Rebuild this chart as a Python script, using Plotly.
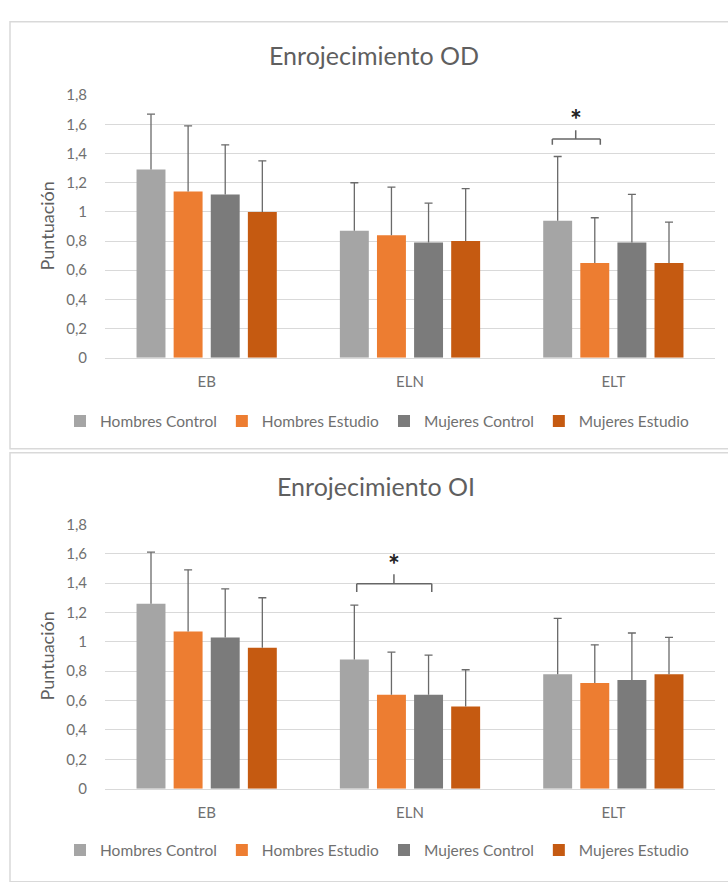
import plotly.graph_objects as go

categories = ["EB", "ELN", "ELT"]
series_names = ["Hombres Control", "Hombres Estudio", "Mujeres Control", "Mujeres Estudio"]
colors = ["#A5A5A5", "#ED7D31", "#7B7B7B", "#C55A11"]

# Enrojecimiento OD: means and upper error-bar tops
od_values = [
    [1.29, 0.87, 0.94],
    [1.14, 0.84, 0.65],
    [1.12, 0.79, 0.79],
    [1.00, 0.80, 0.65],
]
od_err_top = [
    [1.67, 1.20, 1.38],
    [1.59, 1.17, 0.96],
    [1.46, 1.06, 1.12],
    [1.35, 1.16, 0.93],
]

# Enrojecimiento OI
oi_values = [
    [1.26, 0.88, 0.78],
    [1.07, 0.64, 0.72],
    [1.03, 0.64, 0.74],
    [0.96, 0.56, 0.78],
]
oi_err_top = [
    [1.61, 1.25, 1.16],
    [1.49, 0.93, 0.98],
    [1.36, 0.91, 1.06],
    [1.30, 0.81, 1.03],
]

titles = ["Enrojecimiento OD", "Enrojecimiento OI"]
y_title = "Puntuación"
tick_vals = [0, 0.2, 0.4, 0.6, 0.8, 1.0, 1.2, 1.4, 1.6, 1.8]

FONT = "Lato"
TXT = "#707070"
ERR = "#6A6A6A"
W, H = 728, 882

fig = go.Figure()

datasets = [(od_values, od_err_top, "x", "y", "legend"),
            (oi_values, oi_err_top, "x2", "y2", "legend2")]
for vals, tops, xa, ya, lg in datasets:
    for i, name in enumerate(series_names):
        plus = [round(t - v, 3) for t, v in zip(tops[i], vals[i])]
        # main bar with stem of the error bar (no caps)
        fig.add_trace(go.Bar(
            x=categories, y=vals[i], name=name, offsetgroup=str(i),
            marker=dict(color=colors[i], line=dict(width=0)),
            error_y=dict(type="data", array=plus, arrayminus=[0] * 3, symmetric=False,
                         color=ERR, thickness=1.3, width=0),
            xaxis=xa, yaxis=ya, legend=lg,
        ))
    for i, name in enumerate(series_names):
        # invisible bar at the error top, carrying only the cap
        fig.add_trace(go.Bar(
            x=categories, y=tops[i], name=name, offsetgroup=str(i), showlegend=False,
            marker=dict(color="rgba(0,0,0,0)", line=dict(width=0)), hoverinfo="skip",
            error_y=dict(type="data", array=[0] * 3, symmetric=True,
                         color=ERR, thickness=1.3, width=4),
            xaxis=xa, yaxis=ya, legend=lg,
        ))

def px_x(p):
    return p / W

def px_y(p):
    return 1 - p / H

axis_common = dict(
    range=[0, 1.8], tickvals=tick_vals, showgrid=True, gridcolor="#D9D9D9", gridwidth=1,
    zeroline=False, showline=False, tickfont=dict(family=FONT, size=15, color=TXT),
    ticks="outside", ticklen=14, tickcolor="rgba(0,0,0,0)", fixedrange=True,
)
xaxis_common = dict(
    showgrid=False, showline=True, linecolor="#D9D9D9", linewidth=1,
    tickfont=dict(family=FONT, size=15, color=TXT),
    ticks="outside", ticklen=10, tickcolor="rgba(0,0,0,0)", fixedrange=True,
)

xd = [px_x(105), px_x(715)]
legend_common = dict(orientation="h", xanchor="center", yanchor="middle",
                     font=dict(family=FONT, size=15.5, color=TXT), itemwidth=30,
                     bgcolor="rgba(0,0,0,0)")
fig.update_layout(
    width=W, height=H, margin=dict(l=0, r=0, t=0, b=0),
    paper_bgcolor="white", plot_bgcolor="white",
    barmode="group", bargap=0.27, bargroupgap=0.22,
    separators=",.",
    showlegend=True,
    xaxis=dict(domain=xd, anchor="y", **xaxis_common),
    yaxis=dict(domain=[px_y(355), px_y(87)], anchor="x", **axis_common),
    xaxis2=dict(domain=xd, anchor="y2", **xaxis_common),
    yaxis2=dict(domain=[px_y(795), px_y(525)], anchor="x2", **axis_common),
    legend=dict(x=px_x(377), y=px_y(420), **legend_common),
    legend2=dict(x=px_x(377), y=px_y(858), **legend_common),
)

shapes = []
shapes.append(dict(type="rect", xref="paper", yref="paper", x0=px_x(10), x1=px_x(735),
                   y0=px_y(448), y1=px_y(12), line=dict(color="#D9D9D9", width=1.5)))
shapes.append(dict(type="rect", xref="paper", yref="paper", x0=px_x(10), x1=px_x(735),
                   y0=px_y(890), y1=px_y(452), line=dict(color="#D9D9D9", width=1.5)))

def bracket(xr, yr, xl, xrr, xm, yb, yend, ytop):
    s = []
    line = dict(color="#666666", width=1.5)
    s.append(dict(type="line", xref=xr, yref=yr, x0=xl, x1=xrr, y0=yb, y1=yb, line=line))
    s.append(dict(type="line", xref=xr, yref=yr, x0=xl, x1=xl, y0=yb, y1=yend, line=line))
    s.append(dict(type="line", xref=xr, yref=yr, x0=xrr, x1=xrr, y0=yb, y1=yend, line=line))
    s.append(dict(type="line", xref=xr, yref=yr, x0=xm, x1=xm, y0=yb, y1=ytop, line=line))
    return s

shapes += bracket("x", "y", 2 - 0.30, 2 - 0.064, 2 - 0.185, 1.50, 1.46, 1.56)
shapes += bracket("x2", "y2", 1 - 0.262, 1 + 0.107, 1 - 0.079, 1.395, 1.34, 1.46)
fig.update_layout(shapes=shapes)

annotations = [
    dict(text=titles[0], x=px_x(374), y=px_y(46), xref="paper", yref="paper",
         xanchor="center", yanchor="middle",
         showarrow=False, font=dict(family=FONT, size=25, color="#5F5F5F")),
    dict(text=titles[1], x=px_x(376), y=px_y(486), xref="paper", yref="paper",
         xanchor="center", yanchor="middle",
         showarrow=False, font=dict(family=FONT, size=25, color="#5F5F5F")),
    dict(text=y_title, x=px_x(47), y=px_y(221), xref="paper", yref="paper", textangle=-90,
         xanchor="center", yanchor="middle",
         showarrow=False, font=dict(family=FONT, size=18, color="#5F5F5F")),
    dict(text=y_title, x=px_x(47), y=px_y(660), xref="paper", yref="paper", textangle=-90,
         xanchor="center", yanchor="middle",
         showarrow=False, font=dict(family=FONT, size=18, color="#5F5F5F")),
    dict(text="<b>*</b>", x=2 - 0.185, y=1.64, xref="x", yref="y", showarrow=False,
         xanchor="center", yanchor="middle",
         font=dict(family=FONT, size=28, color="#222222")),
    dict(text="<b>*</b>", x=1 - 0.079, y=1.53, xref="x2", yref="y2", showarrow=False,
         xanchor="center", yanchor="middle",
         font=dict(family=FONT, size=28, color="#222222")),
]
fig.update_layout(annotations=annotations)

fig.write_html("out.html")
